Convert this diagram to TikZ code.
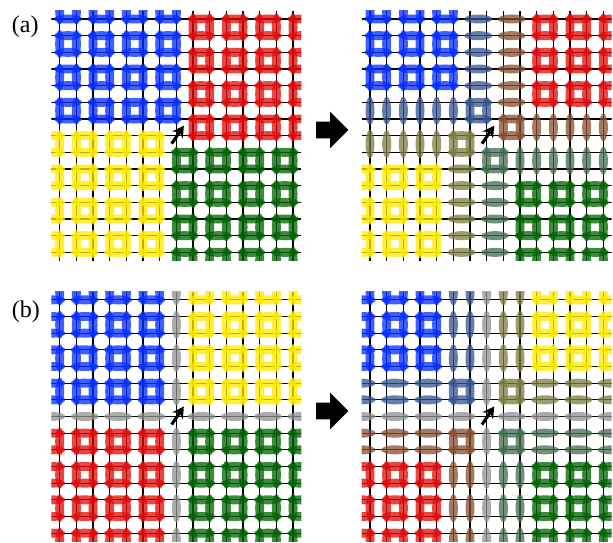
\documentclass[tikz,border=0pt]{standalone}
\usepackage{fontspec}
\setmainfont{Liberation Serif}
\usetikzlibrary{arrows.meta}
\definecolor{cblue}{RGB}{5,45,255}
\definecolor{cred}{RGB}{225,10,10}
\definecolor{cyel}{RGB}{255,235,0}
\definecolor{cgreen}{RGB}{0,100,0}
\definecolor{cslate}{RGB}{55,85,145}
\definecolor{cbrown}{RGB}{135,80,50}
\definecolor{colive}{RGB}{125,125,65}
\definecolor{cgg}{RGB}{70,110,80}
\definecolor{cgray}{RGB}{145,145,145}
\tikzset{
  gridline/.style={line width=0.9pt, black},
  dimer/.style={opacity=0.76},
  lbl/.style={font=\fontsize{18}{20}\selectfont, inner sep=0pt},
  cursor/.style={line width=2.3pt, -{Stealth[length=8.5pt,width=9.5pt]}},
  blockarrow/.style={fill=black}
}
\newcommand\HDim[3]{\fill[#1,dimer] ({#2+0.5},{#3}) ellipse [x radius=0.84, y radius=0.27];}
\newcommand\VDim[3]{\fill[#1,dimer] ({#2},{#3+0.5}) ellipse [x radius=0.27, y radius=0.84];}
\newcommand\Plaq[3]{\HDim{#1}{#2}{#3}\HDim{#1}{#2}{#3+1}\VDim{#1}{#2}{#3}\VDim{#1}{#2+1}{#3}}
\newcommand\PanelGrid{%
  \clip (-0.5,-0.5) rectangle (14.5,14.5);
  \foreach \k in {0,...,14} {\draw[gridline] (\k,-0.5) -- (\k,14.5); \draw[gridline] (-0.5,\k) -- (14.5,\k);}
}
\newcommand\GrayWalls{%
  \foreach \q in {-1,1,3,5,8,10,12,14} {\VDim{cgray}{7}{\q}}
  \foreach \p in {-1,1,3,5,8,10,12,14} {\HDim{cgray}{\p}{7}}
}
\begin{document}
\begin{tikzpicture}[x=12.5pt,y=-12.5pt]
\useasboundingbox (0,0) rectangle (36.78,32.52);
\def\XL{3.582}\def\XR{22.2}\def\YA{1.14}\def\YB{17.99}
% ---------- (a) left
\begin{scope}[shift={(\XL,\YA)}]
\begin{scope}
\PanelGrid
\foreach \p in {0,2,4,6} \foreach \q in {-1,1,3,5} {\Plaq{cblue}{\p}{\q}}
\foreach \p in {8,10,12,14} \foreach \q in {0,2,4,6} {\Plaq{cred}{\p}{\q}}
\foreach \p in {-1,1,3,5} \foreach \q in {7,9,11,13} {\Plaq{cyel}{\p}{\q}}
\foreach \p in {7,9,11,13} \foreach \q in {8,10,12,14} {\Plaq{cgreen}{\p}{\q}}
\end{scope}
\draw[cursor] (6.72,7.48) -- (7.45,6.40);
\end{scope}
% ---------- (a) right
\begin{scope}[shift={(\XR,\YA)}]
\begin{scope}
\PanelGrid
\foreach \p in {0,2,4} \foreach \q in {-1,1,3} {\Plaq{cblue}{\p}{\q}}
\Plaq{cslate}{6}{5}
\foreach \j in {0,...,4} {\HDim{cslate}{6}{\j}}
\foreach \i in {0,...,5} {\VDim{cslate}{\i}{5}}
\foreach \p in {10,12,14} \foreach \q in {0,2,4} {\Plaq{cred}{\p}{\q}}
\Plaq{cbrown}{8}{6}
\foreach \j in {0,...,5} {\HDim{cbrown}{8}{\j}}
\foreach \i in {10,...,14} {\VDim{cbrown}{\i}{6}}
\foreach \p in {-1,1,3} \foreach \q in {9,11,13} {\Plaq{cyel}{\p}{\q}}
\Plaq{colive}{5}{7}
\foreach \i in {0,...,4} {\VDim{colive}{\i}{7}}
\foreach \j in {9,...,14} {\HDim{colive}{5}{\j}}
\foreach \p in {9,11,13} \foreach \q in {10,12,14} {\Plaq{cgreen}{\p}{\q}}
\Plaq{cgg}{7}{8}
\foreach \i in {9,...,14} {\VDim{cgg}{\i}{8}}
\foreach \j in {10,...,14} {\HDim{cgg}{7}{\j}}
\end{scope}
\draw[cursor] (6.72,7.48) -- (7.45,6.40);
\end{scope}
% ---------- (b) left
\begin{scope}[shift={(\XL,\YB)}]
\begin{scope}
\PanelGrid
\foreach \p in {-1,1,3,5} \foreach \q in {-1,1,3,5} {\Plaq{cblue}{\p}{\q}}
\foreach \p in {8,10,12,14} \foreach \q in {-1,1,3,5} {\Plaq{cyel}{\p}{\q}}
\foreach \p in {-1,1,3,5} \foreach \q in {8,10,12,14} {\Plaq{cred}{\p}{\q}}
\foreach \p in {8,10,12,14} \foreach \q in {8,10,12,14} {\Plaq{cgreen}{\p}{\q}}
\GrayWalls
\end{scope}
\draw[cursor] (6.72,7.48) -- (7.45,6.40);
\end{scope}
% ---------- (b) right
\begin{scope}[shift={(\XR,\YB)}]
\begin{scope}
\PanelGrid
\foreach \p in {-1,1,3} \foreach \q in {-1,1,3} {\Plaq{cblue}{\p}{\q}}
\Plaq{cslate}{5}{5}
\foreach \q in {-1,1,3} {\VDim{cslate}{5}{\q}\VDim{cslate}{6}{\q}}
\foreach \p in {-1,1,3} {\HDim{cslate}{\p}{5}\HDim{cslate}{\p}{6}}
\foreach \p in {10,12,14} \foreach \q in {-1,1,3} {\Plaq{cyel}{\p}{\q}}
\Plaq{colive}{8}{5}
\foreach \q in {-1,1,3} {\VDim{colive}{8}{\q}\VDim{colive}{9}{\q}}
\foreach \p in {10,12,14} {\HDim{colive}{\p}{5}\HDim{colive}{\p}{6}}
\foreach \p in {-1,1,3} \foreach \q in {10,12,14} {\Plaq{cred}{\p}{\q}}
\Plaq{cbrown}{5}{8}
\foreach \q in {10,12,14} {\VDim{cbrown}{5}{\q}\VDim{cbrown}{6}{\q}}
\foreach \p in {-1,1,3} {\HDim{cbrown}{\p}{8}\HDim{cbrown}{\p}{9}}
\foreach \p in {10,12,14} \foreach \q in {10,12,14} {\Plaq{cgreen}{\p}{\q}}
\Plaq{cgg}{8}{8}
\foreach \q in {10,12,14} {\VDim{cgg}{8}{\q}\VDim{cgg}{9}{\q}}
\foreach \p in {10,12,14} {\HDim{cgg}{\p}{8}\HDim{cgg}{\p}{9}}
\GrayWalls
\end{scope}
\draw[cursor] (6.72,7.48) -- (7.45,6.40);
\end{scope}
% ---------- block arrows
\fill[blockarrow] (18.96,7.30) -- (19.80,7.30) -- (19.80,6.70) -- (20.90,7.80) -- (19.80,8.90) -- (19.80,8.30) -- (18.96,8.30) -- cycle;
\fill[blockarrow] (18.96,24.16) -- (19.80,24.16) -- (19.80,23.56) -- (20.90,24.66) -- (19.80,25.76) -- (19.80,25.16) -- (18.96,25.16) -- cycle;
% ---------- labels
\node[lbl, anchor=base west] (labela) at (0.70,1.98) {(a)};
\node[lbl, anchor=base west] (labelb) at (0.70,19.02) {(b)};
\end{tikzpicture}
\end{document}
